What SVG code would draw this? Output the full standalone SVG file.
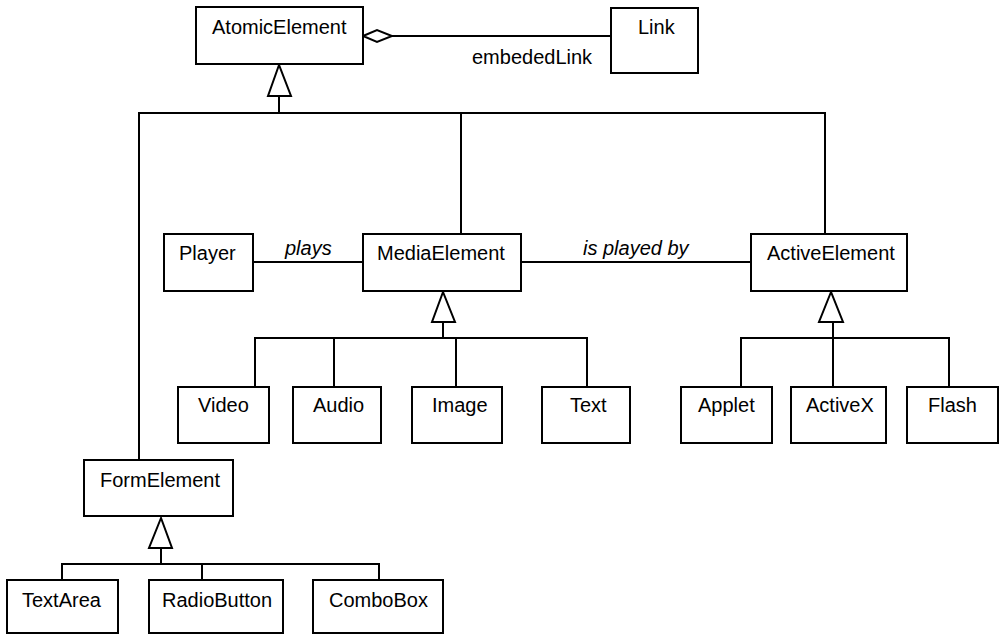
<svg xmlns="http://www.w3.org/2000/svg" width="1001" height="636" viewBox="0 0 1001 636">
  <style>
    .box { fill: #fff; stroke: #000; stroke-width: 2; }
    .lbl { font-family: "Liberation Sans", Arial, sans-serif; font-size: 20px; fill: #000; }
    .it { font-style: italic; }
    .ln { fill: none; stroke: #000; stroke-width: 2; }
    .tri { fill: #fff; stroke: #000; stroke-width: 2; stroke-linejoin: miter; }
  </style>
  <rect width="1001" height="636" fill="#fff"/>

  <!-- connectors -->
  <g id="connectors">
    <!-- aggregation AtomicElement <>- Link -->
    <line class="ln" x1="392" y1="36" x2="611" y2="36"/>
    <polygon class="tri" points="363,36 377,30 392,36 377,42"/>
    <text class="lbl" x="472" y="64">embededLink</text>

    <!-- generalization to AtomicElement -->
    <polyline class="ln" points="139,460 139,113 825,113 825,234"/>
    <line class="ln" x1="461" y1="113" x2="461" y2="234"/>
    <line class="ln" x1="279" y1="96" x2="279" y2="113"/>
    <polygon class="tri" points="279,65 268,96 291,96"/>

    <!-- associations -->
    <line class="ln" x1="253" y1="262" x2="363" y2="262"/>
    <text class="lbl it" x="285" y="255">plays</text>
    <line class="ln" x1="521" y1="262" x2="751" y2="262"/>
    <text class="lbl it" x="583" y="255">is played by</text>

    <!-- generalization to MediaElement -->
    <polyline class="ln" points="255,387 255,338 587,338 587,387"/>
    <line class="ln" x1="334" y1="338" x2="334" y2="387"/>
    <line class="ln" x1="456" y1="338" x2="456" y2="387"/>
    <line class="ln" x1="443" y1="322" x2="443" y2="338"/>
    <polygon class="tri" points="443,292 432,322 455,322"/>

    <!-- generalization to ActiveElement -->
    <polyline class="ln" points="741,387 741,338 949,338 949,387"/>
    <line class="ln" x1="833" y1="322" x2="833" y2="387"/>
    <polygon class="tri" points="831,292 819,322 843,322"/>

    <!-- generalization to FormElement -->
    <polyline class="ln" points="62,580 62,564 379,564 379,580"/>
    <line class="ln" x1="202" y1="564" x2="202" y2="580"/>
    <line class="ln" x1="161" y1="548" x2="161" y2="564"/>
    <polygon class="tri" points="161,518 149,548 172,548"/>
  </g>

  <g id="AtomicElement"><rect class="box" x="196" y="7" width="167" height="57"/><text class="lbl" x="212" y="34">AtomicElement</text></g>
  <g id="Link"><rect class="box" x="611" y="8" width="87" height="65"/><text class="lbl" x="638" y="34">Link</text></g>

  <g id="Player"><rect class="box" x="164" y="234" width="89" height="57"/><text class="lbl" x="179" y="260">Player</text></g>
  <g id="MediaElement"><rect class="box" x="363" y="234" width="158" height="57"/><text class="lbl" x="377" y="260">MediaElement</text></g>
  <g id="ActiveElement"><rect class="box" x="751" y="234" width="156" height="57"/><text class="lbl" x="767" y="260">ActiveElement</text></g>

  <g id="Video"><rect class="box" x="178" y="387" width="91" height="56"/><text class="lbl" x="198" y="412">Video</text></g>
  <g id="Audio"><rect class="box" x="293" y="387" width="88" height="56"/><text class="lbl" x="313" y="412">Audio</text></g>
  <g id="Image"><rect class="box" x="412" y="387" width="90" height="56"/><text class="lbl" x="432" y="412">Image</text></g>
  <g id="Text"><rect class="box" x="542" y="387" width="88" height="56"/><text class="lbl" x="570" y="412">Text</text></g>

  <g id="Applet"><rect class="box" x="681" y="387" width="91" height="56"/><text class="lbl" x="698" y="412">Applet</text></g>
  <g id="ActiveX"><rect class="box" x="791" y="387" width="95" height="56"/><text class="lbl" x="806" y="412">ActiveX</text></g>
  <g id="Flash"><rect class="box" x="907" y="387" width="91" height="56"/><text class="lbl" x="928" y="412">Flash</text></g>

  <g id="FormElement"><rect class="box" x="84" y="460" width="149" height="56"/><text class="lbl" x="100" y="487">FormElement</text></g>

  <g id="TextArea"><rect class="box" x="7" y="580" width="111" height="53"/><text class="lbl" x="22" y="607">TextArea</text></g>
  <g id="RadioButton"><rect class="box" x="149" y="580" width="134" height="53"/><text class="lbl" x="162" y="607">RadioButton</text></g>
  <g id="ComboBox"><rect class="box" x="313" y="580" width="130" height="53"/><text class="lbl" x="329" y="607">ComboBox</text></g>
</svg>
